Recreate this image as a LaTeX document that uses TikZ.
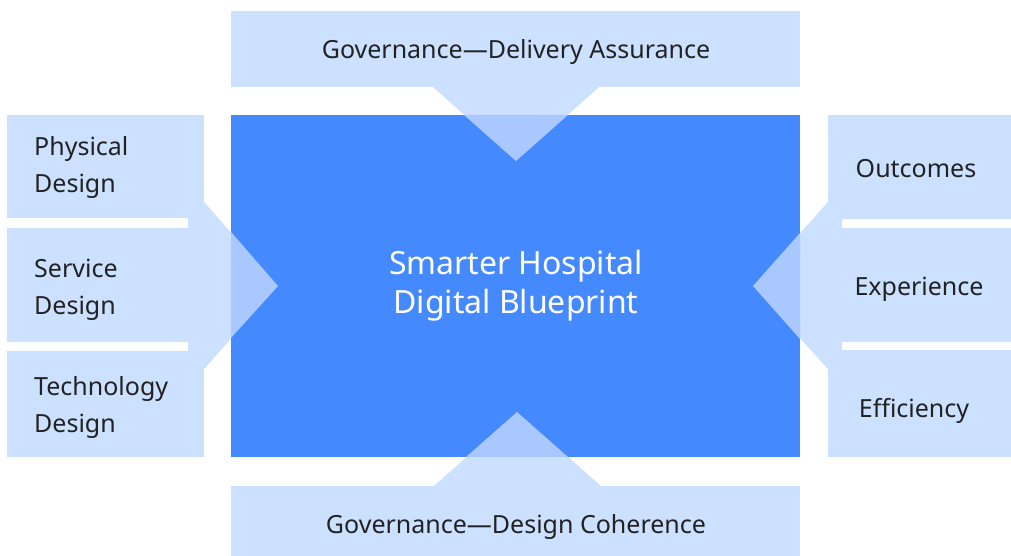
\documentclass[tikz,border=0pt]{standalone}
\usepackage{fontspec}
\setmainfont{Noto Sans}
\begin{document}
\definecolor{paleblue}{HTML}{CCE0FF}
\definecolor{coreblue}{HTML}{4589FF}
\definecolor{mixblue}{HTML}{A8C8FF}
\definecolor{inkgrey}{HTML}{222222}
\begin{tikzpicture}[x=1pt,y=-1pt,
  panel/.style={fill=paleblue,draw=none,inner sep=0pt,anchor=north west},
  core/.style={fill=coreblue,draw=none,inner sep=0pt,anchor=north west},
  label/.style={text=inkgrey,inner sep=0pt,font=\fontsize{25}{37}\selectfont},
  sidelabel/.style={label,align=left,anchor=base west},
  centrelabel/.style={label,anchor=base}]
  \useasboundingbox (0,0) rectangle (1011,556);
  \fill[white] (0,0) rectangle (1011,556);

  % side and governance panels
  \node[panel,minimum width=569pt,minimum height=76pt] (top) at (231,11) {};
  \node[panel,minimum width=569pt,minimum height=70pt] (bottom) at (231,486) {};
  \node[panel,minimum width=197pt,minimum height=103pt] (phys) at (7,115) {};
  \node[panel,minimum width=197pt,minimum height=114pt] (serv) at (7,228) {};
  \node[panel,minimum width=197pt,minimum height=106pt] (tech) at (7,351) {};
  \node[panel,minimum width=183pt,minimum height=104pt] (outc) at (828,115) {};
  \node[panel,minimum width=183pt,minimum height=114pt] (expe) at (828,228) {};
  \node[panel,minimum width=183pt,minimum height=107pt] (effi) at (828,350) {};

  % chevrons pointing into the core
  \fill[paleblue] (433,87) -- (599,87) -- (516,161) -- cycle;
  \fill[paleblue] (434,486) -- (517,412) -- (601,486) -- cycle;
  \fill[paleblue] (188,202) -- (204,202) -- (278,286) -- (204,369) -- (188,369) -- cycle;
  \fill[paleblue] (842,202) -- (828,202) -- (753,286) -- (828,369) -- (842,369) -- cycle;

  % core block
  \node[core,minimum width=569pt,minimum height=342pt] (core) at (231,115) {};

  % chevron tips where they overlap the core
  \fill[mixblue] (464,115) -- (568,115) -- (516,161) -- cycle;
  \fill[mixblue] (466,457) -- (517,412) -- (568,457) -- cycle;
  \fill[mixblue] (231,232) -- (278,286) -- (231,338) -- cycle;
  \fill[mixblue] (800,233) -- (753,286) -- (800,339) -- cycle;

  % texts (multi-line labels are anchored on their last baseline)
  \node[centrelabel] (toptext) at (516,59) {Governance—Delivery Assurance};
  \node[centrelabel] (bottext) at (516,533) {Governance—Design Coherence};
  \node[sidelabel] (phystext) at (34,193) {Physical\\Design};
  \node[sidelabel] (servtext) at (34,314) {Service\\Design};
  \node[sidelabel] (techtext) at (34,432) {Technology\\Design};
  \node[centrelabel] (outctext) at (916,178) {Outcomes};
  \node[centrelabel] (expetext) at (919,295) {Experience};
  \node[centrelabel] (effitext) at (914,417) {Efficiency};
  \node[label,text=white,align=center,anchor=base,font=\fontsize{32}{39}\selectfont]
    (coretext) at (516,313) {Smarter Hospital\\Digital Blueprint};
\end{tikzpicture}
\end{document}
